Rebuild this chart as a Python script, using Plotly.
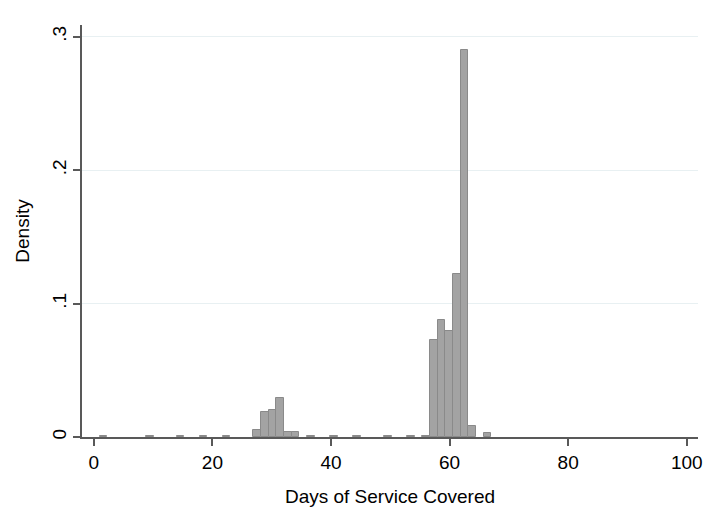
import plotly.graph_objects as go

# Histogram data (Stata-style density histogram)
bin_start = 1.0
bin_width = 1.295
densities = [
    0.001, 0, 0, 0, 0, 0, 0.0005, 0, 0, 0,
    0.0005, 0, 0, 0.0005, 0, 0, 0.0005, 0, 0, 0,
    0.0055, 0.0187, 0.0204, 0.0294, 0.0037, 0.0037, 0, 0.0008, 0, 0,
    0.0006, 0, 0, 0.0005, 0, 0, 0, 0.0005, 0, 0,
    0.0005, 0, 0.0008, 0.0729, 0.0879, 0.0791, 0.1221, 0.290, 0.0082, 0,
    0.003,
]
x_tickvals = [0, 20, 40, 60, 80, 100]
x_ticktext = ["0", "20", "40", "60", "80", "100"]
y_tickvals = [0, 0.1, 0.2, 0.3]
y_ticktext = ["0", ".1", ".2", ".3"]

centers = []
heights = []
for i, d in enumerate(densities):
    if d > 0:
        centers.append(bin_start + (i + 0.5) * bin_width)
        heights.append(d)

fig = go.Figure()
fig.add_trace(go.Bar(
    x=centers, y=heights, width=bin_width,
    marker=dict(color="#a3a3a3", line=dict(color="#8a8a8a", width=1)),
))

font = "Liberation Sans, Arial, sans-serif"
fs = 19
fig.update_layout(
    width=703, height=510,
    margin=dict(l=82, r=5, t=25, b=73),
    paper_bgcolor="white", plot_bgcolor="white",
    showlegend=False, bargap=0,
    font=dict(family=font, size=fs, color="#000000"),
    xaxis=dict(
        range=[-2.0, 101.9], tickvals=x_tickvals, ticktext=x_ticktext,
        automargin=False,
        showgrid=False, zeroline=False,
        showline=True, linecolor="#595959", linewidth=1.5,
        ticks="outside", ticklen=7, tickcolor="#595959", tickwidth=1.5,
        tickfont=dict(size=fs),
        title=dict(text="Days of Service Covered", font=dict(size=fs), standoff=18),
    ),
    yaxis=dict(
        range=[0, 0.3088], tickvals=y_tickvals, ticktext=y_ticktext,
        tickangle=-90, automargin=False,
        showgrid=True, gridcolor="#e8f0f2", gridwidth=1, zeroline=False,
        showline=True, linecolor="#595959", linewidth=1.5,
        ticks="outside", ticklen=7, tickcolor="#595959", tickwidth=1.5,
        tickfont=dict(size=fs),
        title=dict(text="Density", font=dict(size=fs), standoff=14),
    ),
)

fig.write_html("out.html")
